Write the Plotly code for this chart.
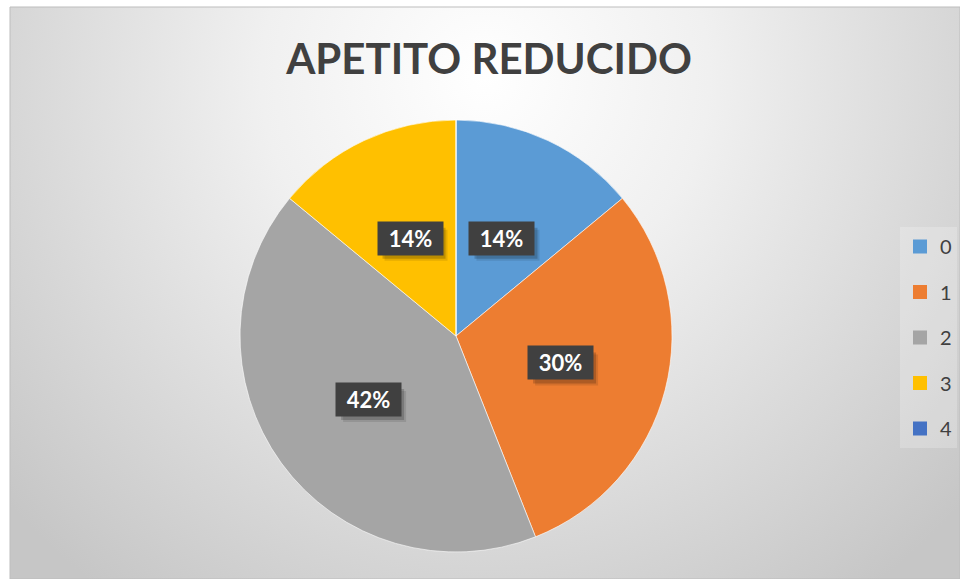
import math
import base64
import plotly.graph_objects as go

# ---- data ----
categories = ["0", "1", "2", "3", "4"]
percentages = [14, 30, 42, 14, 0]
colors = ["#5B9BD5", "#ED7D31", "#A5A5A5", "#FFC000", "#4472C4"]
title_text = "APETITO REDUCIDO"

W, H = 960, 579
FONT = "Lato"

# pie domain (paper coords)
dom_x = [0.25, 0.70]
dom_y = [0.0466, 0.7927]

# background radial gradient as svg
svg = f"""<svg xmlns='http://www.w3.org/2000/svg' width='950' height='572' viewBox='0 0 950 572'>
<defs><radialGradient id='g' gradientUnits='userSpaceOnUse' cx='475' cy='70' r='640'>
<stop offset='0' stop-color='#ffffff'/><stop offset='0.35' stop-color='#f0f0f0'/><stop offset='1' stop-color='#c6c6c6'/></radialGradient></defs>
<rect width='950' height='572' fill='url(#g)'/></svg>"""
svg_uri = "data:image/svg+xml;base64," + base64.b64encode(svg.encode()).decode()

fig = go.Figure()
fig.add_trace(go.Pie(
    labels=categories,
    values=percentages,
    marker=dict(colors=colors, line=dict(color="rgba(255,255,255,0.6)", width=1)),
    sort=False,
    direction="clockwise",
    rotation=0,
    textinfo="none",
    textposition="none",
    showlegend=False,
    domain=dict(x=dom_x, y=dom_y),
    hoverinfo="label+percent",
))

# legend entries
for cat, col in zip(categories, colors):
    fig.add_trace(go.Scatter(
        x=[None], y=[None], mode="markers", name=cat, legendgroup=cat,
        marker=dict(symbol="square", size=14, color=col),
        showlegend=True, hoverinfo="skip",
    ))

# label annotations derived from data
total = sum(percentages)
cx = (dom_x[0] + dom_x[1]) / 2 * W
cy = (1 - (dom_y[0] + dom_y[1]) / 2) * H
R = min((dom_x[1] - dom_x[0]) * W, (dom_y[1] - dom_y[0]) * H) / 2
BW, BH = 63, 31
annotations = []
shapes = [dict(type="rect", xref="paper", yref="paper", x0=10 / W, x1=1, y0=0, y1=1 - 7 / H,
               line=dict(color="#bdbdbd", width=1), layer="below")]
cum = 0
for v in percentages:
    if v > 0:
        theta = 2 * math.pi * (cum + v / 2) / total
        px = cx + 0.5 * R * math.sin(theta)
        py = cy - 0.5 * R * math.cos(theta)
        txt = f"{round(v / total * 100)}%"
        # soft drop shadow
        for (ox, oy, a) in [(6, 7, 0.10), (4, 5, 0.18)]:
            shapes.append(dict(type="rect", xref="paper", yref="paper", layer="above",
                               x0=(px - BW / 2 + ox) / W, x1=(px + BW / 2 + ox) / W,
                               y0=1 - (py + BH / 2 + oy) / H, y1=1 - (py - BH / 2 + oy) / H,
                               fillcolor=f"rgba(0,0,0,{a})", line=dict(width=0)))
        annotations.append(dict(text=txt, x=px / W, y=1 - py / H, xref="paper", yref="paper",
                                showarrow=False, width=BW, height=BH,
                                xanchor="center", yanchor="middle", bgcolor="#404040",
                                font=dict(family=FONT, size=22, color="white", weight="bold")))
    cum += v

fig.update_layout(
    width=W, height=H,
    margin=dict(l=0, r=0, t=0, b=0),
    paper_bgcolor="white",
    plot_bgcolor="rgba(0,0,0,0)",
    xaxis=dict(visible=False),
    yaxis=dict(visible=False),
    title=dict(text=title_text, x=489 / W, xanchor="center", y=1 - 59 / H, yanchor="middle",
               yref="container",
               font=dict(family=FONT, size=42, color="#404040", weight="bold")),
    legend=dict(x=900 / W, y=1 - 227 / H, xanchor="left", yanchor="top",
                bgcolor="rgba(255,255,255,0.22)", tracegroupgap=16.5,
                font=dict(family=FONT, size=20, color="#404040"),
                itemclick=False, itemdoubleclick=False),
    images=[dict(source=svg_uri, xref="paper", yref="paper", x=10 / W, y=1 - 7 / H,
                 sizex=950 / W, sizey=572 / H, xanchor="left", yanchor="top",
                 sizing="stretch", layer="below")],
    shapes=shapes,
    annotations=annotations,
    showlegend=True,
)

fig.write_html("out.html", config={"displayModeBar": False},
               post_script="document.body.style.margin='0px';document.body.style.overflow='hidden';")
